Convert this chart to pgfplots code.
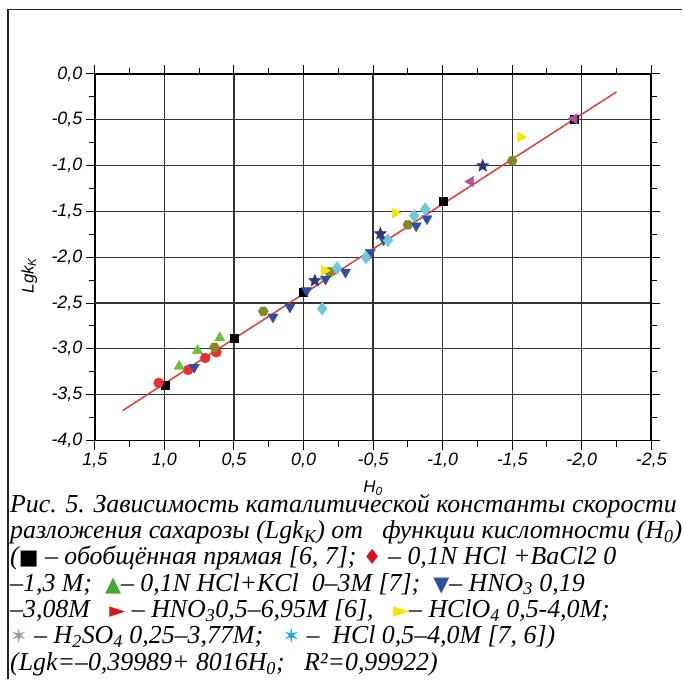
\documentclass[border=0pt]{standalone}
\usepackage{fontspec}
\setmainfont{Liberation Serif}
\newfontfamily\axisfont{Liberation Sans}
\newfontfamily\capfont{Liberation Serif}
\newfontfamily\symfont{DejaVu Sans}
\usepackage{pgfplots}
\pgfplotsset{compat=1.18}
\definecolor{cblack}{HTML}{000000}
\definecolor{cred}{HTML}{E8312F}
\definecolor{cgreen}{HTML}{6DBE3C}
\definecolor{cblue}{HTML}{2F4FA0}
\definecolor{colive}{HTML}{85852A}
\definecolor{ccyan}{HTML}{6FC9DA}
\definecolor{cnavy}{HTML}{2C3A78}
\definecolor{cyellow}{HTML}{F7E600}
\definecolor{cpurple}{HTML}{B0509F}
\definecolor{cline}{HTML}{E53A33}
\definecolor{capred}{HTML}{E0101E}
\definecolor{capgreen}{HTML}{3FAA35}
\definecolor{capcyan}{HTML}{1AA3E8}
\pgfdeclareplotmark{hexagon*}{%
  \pgfpathmoveto{\pgfpointpolar{0}{\pgfplotmarksize}}%
  \pgfpathlineto{\pgfpointpolar{60}{\pgfplotmarksize}}%
  \pgfpathlineto{\pgfpointpolar{120}{\pgfplotmarksize}}%
  \pgfpathlineto{\pgfpointpolar{180}{\pgfplotmarksize}}%
  \pgfpathlineto{\pgfpointpolar{240}{\pgfplotmarksize}}%
  \pgfpathlineto{\pgfpointpolar{300}{\pgfplotmarksize}}%
  \pgfpathclose\pgfusepathqfillstroke}
\pgfdeclareplotmark{fstar}{%
  \pgfpathmoveto{\pgfpointpolar{90}{\pgfplotmarksize}}%
  \pgfpathlineto{\pgfpointpolar{126}{0.45\pgfplotmarksize}}%
  \pgfpathlineto{\pgfpointpolar{162}{\pgfplotmarksize}}%
  \pgfpathlineto{\pgfpointpolar{198}{0.45\pgfplotmarksize}}%
  \pgfpathlineto{\pgfpointpolar{234}{\pgfplotmarksize}}%
  \pgfpathlineto{\pgfpointpolar{270}{0.45\pgfplotmarksize}}%
  \pgfpathlineto{\pgfpointpolar{306}{\pgfplotmarksize}}%
  \pgfpathlineto{\pgfpointpolar{342}{0.45\pgfplotmarksize}}%
  \pgfpathlineto{\pgfpointpolar{18}{\pgfplotmarksize}}%
  \pgfpathlineto{\pgfpointpolar{54}{0.45\pgfplotmarksize}}%
  \pgfpathclose\pgfusepathqfillstroke}
\newcommand\sym[2]{{\symfont\fontsize{21}{21}\selectfont\color{#1}#2}}
\begin{document}
\begin{tikzpicture}
\begin{axis}[
  at={(0,0)}, anchor=south west, scale only axis,
  width=557bp, height=367bp,
  xmin=-2.5, xmax=1.5, ymin=-4, ymax=0,
  x dir=reverse,
  xtick={-2.5,-2,-1.5,-1,-0.5,0,0.5,1,1.5},
  ytick={-4,-3.5,-3,-2.5,-2,-1.5,-1,-0.5,0},
  minor x tick num=1, minor y tick num=1,
  tick align=outside,
  major tick length=9bp, minor tick length=6bp,
  every tick/.style={black, line width=1bp},
  grid=major,
  major grid style={line width=1.2bp, color=black!80},
  axis line style={line width=1.8bp, black},
  ticklabel style={font=\axisfont\itshape\fontsize{18}{18}\selectfont},
  /pgf/number format/use comma,
  /pgf/number format/fixed,
  /pgf/number format/fixed zerofill,
  /pgf/number format/precision=1,
  /pgf/number format/assume math mode=true,
  xlabel={H\textsubscript{0}},
  ylabel={Lgk\textsubscript{K}},
  label style={font=\axisfont\itshape\fontsize{17}{17}\selectfont},
  xlabel style={at={(axis description cs:0.5,-0.13)}, anchor=center},
  ylabel style={at={(axis description cs:-0.118,0.45)}, anchor=center},
  clip=false,
]
\addplot[cline, line width=1.5bp] coordinates {(1.3,-3.673) (-2.25,-0.196)};
% black squares
\addplot[only marks, mark=square*, mark size=4bp, color=cblack] coordinates {
(0.996,-3.40) (0.495,-2.881) (0.002,-2.38) (-1.001,-1.384) (-1.945,-0.49)};
% red circles
\addplot[only marks, mark=*, mark size=5bp, color=cred] coordinates {
(1.042,-3.371) (0.829,-3.23) (0.707,-3.10) (0.626,-3.037)};
% green triangles
\addplot[only marks, mark=triangle*, mark size=6bp, color=cgreen] coordinates {
(0.894,-3.19) (0.762,-3.02) (0.602,-2.88)};
% olive hexagons
\addplot[only marks, mark=hexagon*, mark size=5bp, color=colive] coordinates {
(0.64,-2.983) (0.289,-2.59) (-0.186,-2.16) (-0.75,-1.646) (-1.50,-0.948)};
% blue down triangles
\addplot[only marks, mark=triangle*, mark size=6bp, color=cblue, mark options={rotate=180}] coordinates {
(0.786,-3.20) (0.22,-2.652) (0.098,-2.543) (-0.022,-2.365) (-0.158,-2.238)
(-0.301,-2.162) (-0.48,-1.948) (-0.576,-1.809) (-0.81,-1.657) (-0.887,-1.58)};
% cyan diamonds
\addplot[only marks, mark=diamond*, mark size=6.5bp, color=ccyan] coordinates {
(-0.134,-2.561) (-0.241,-2.118) (-0.449,-2.002) (-0.607,-1.817) (-0.796,-1.548) (-0.875,-1.475)};
% navy stars
\addplot[only marks, mark=fstar, mark size=6.5bp, color=cnavy] coordinates {
(-0.081,-2.256) (-0.552,-1.744) (-1.288,-1.003)};
% yellow right triangles
\addplot[only marks, mark=triangle*, mark size=6bp, color=cyellow, mark options={rotate=-90}] coordinates {
(-0.15,-2.144) (-0.66,-1.518) (-1.56,-0.69)};
% purple left triangles
\addplot[only marks, mark=triangle*, mark size=6bp, color=cpurple, mark options={rotate=90}] coordinates {
(-1.202,-1.174) (-1.945,-0.49)};
\end{axis}
\draw[line width=1.5bp, black!85] (-87bp,-239bp) -- (-87bp,431.5bp) -- (588bp,431.5bp);
\node[anchor=north west, align=left, inner sep=0pt,
  font=\capfont\itshape\fontsize{26}{26.5}\selectfont]
  at (-85bp,-53bp) {%
Рис. 5. Зависимость каталитической константы скорости\\
разложения сахарозы (Lgk\textsubscript{K}) от \ \ функции кислотности (H\textsubscript{0})\\
(\sym{black}{■} – обобщённая прямая [6, 7]; \sym{capred}{♦} – 0,1N HCl +BaCl2 0\\
–1,3 M; \ \sym{capgreen}{▲}– 0,1N HCl+KCl \ 0–3M [7]; \ \sym{cblue}{▼}– HNO\textsubscript{3} 0,19\\
–3,08M \ \ \sym{capred}{►} – HNO\textsubscript{3}0,5–6,95M [6], \ \ \sym{cyellow}{►}– HClO\textsubscript{4} 0,5-4,0M;\\
\sym{black!40}{✶} – H\textsubscript{2}SO\textsubscript{4} 0,25–3,77M; \ \ \sym{capcyan}{✶} – \ HCl 0,5–4,0M [7, 6])\\
(Lgk=–0,39989+ 8016H\textsubscript{0}; \ \ R²=0,99922)};
\path (-95bp,-239bp) rectangle (588bp,441bp);
\end{tikzpicture}
\end{document}
